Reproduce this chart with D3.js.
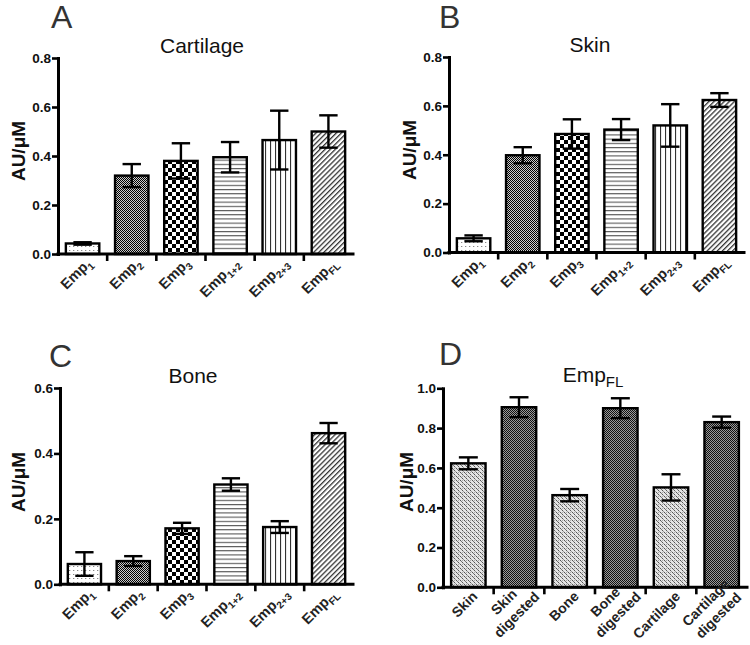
<!DOCTYPE html>
<html><head><meta charset="utf-8">
<script src="https://cdn.jsdelivr.net/npm/d3@7"></script>
<style>body{margin:0;background:#fff} svg{display:block}</style>
</head><body>
<svg id="c" width="750" height="645"></svg>
<script>
// ---------- data ----------
const empMain = ["Emp","Emp","Emp","Emp","Emp","Emp"];
const empSub = ["1","2","3","1+2","2+3","FL"];
const cartilageMean = [0.043, 0.320, 0.380, 0.395, 0.465, 0.500];
const cartilageErr  = [0.005, 0.047, 0.072, 0.062, 0.120, 0.066];
const skinMean = [0.058, 0.398, 0.485, 0.503, 0.520, 0.624];
const skinErr  = [0.012, 0.033, 0.060, 0.043, 0.087, 0.028];
const boneMean = [0.062, 0.071, 0.171, 0.305, 0.175, 0.462];
const boneErr  = [0.036, 0.015, 0.017, 0.019, 0.018, 0.031];
const flLabels = [["Skin"],["Skin","digested"],["Bone"],["Bone","digested"],["Cartilage"],["Cartilage","digested"]];
const flMean = [0.623, 0.905, 0.463, 0.900, 0.502, 0.830];
const flErr  = [0.030, 0.050, 0.031, 0.050, 0.066, 0.028];
const ticks08 = [0, 0.2, 0.4, 0.6, 0.8];
const ticks06 = [0, 0.2, 0.4, 0.6];
const ticks10 = [0, 0.2, 0.4, 0.6, 0.8, 1.0];
const panelTitles = ["Cartilage", "Skin", "Bone", "Emp"];
const panelLetters = ["A", "B", "C", "D"];
const yLabel = "AU/μM";

// ---------- drawing ----------
const FONT = "'Liberation Sans', Arial, Helvetica, sans-serif";
const svg = d3.select("#c");
svg.append("rect").attr("width",750).attr("height",645).attr("fill","#fff");
const defs = svg.append("defs");

function pattern(id, w, h, bg, rects, transform) {
  const p = defs.append("pattern").attr("id", id).attr("patternUnits","userSpaceOnUse")
    .attr("width", w).attr("height", h);
  if (transform) p.attr("patternTransform", transform);
  p.append("rect").attr("width", w).attr("height", h).attr("fill", bg);
  rects.forEach(r => p.append("rect").attr("x", r[0]).attr("y", r[1]).attr("width", r[2]).attr("height", r[3]).attr("fill", r[4]));
}
pattern("p-dots", 4, 4, "#fff", [[1,2,1.3,1,"#888"]]);
pattern("p-fine", 2, 2, "#cccccc", [[0,0,1,1,"#000"],[1,1,1,1,"#000"]]);
pattern("p-check", 8, 8, "#fff", [[0,0,4,4,"#000"],[4,4,4,4,"#000"]]);
pattern("p-hlines", 4, 4.2, "#fff", [[0,0,4,1.1,"#555"]]);
pattern("p-vlines", 5, 4, "#fff", [[0,0,1.1,4,"#333"]]);
pattern("p-diag", 3.6, 4, "#fff", [[0,0,1.3,4,"#333"]], "rotate(45)");
pattern("p-light", 4, 4, "#e4e4e4", [[0,0,1,1,"#555"],[1,1,1,1,"#777"],[2,2,1,1,"#555"],[3,3,1,1,"#999"],[2,0,1,1,"#aaa"]]);
pattern("p-dark", 2, 2, "#9a9a9a", [[0,0,1,1,"#111"],[1,1,1,1,"#111"]]);

const empFills = ["p-dots","p-fine","p-check","p-hlines","p-vlines","p-diag"];
const flFills = ["p-light","p-dark","p-light","p-dark","p-light","p-dark"];

function panel(cfg) {
  const g = svg.append("g");
  const n = cfg.mean.length;
  const x = d3.scaleBand().domain(d3.range(n)).range([cfg.x0, cfg.x1]).paddingInner(0.32).paddingOuter(0.16);
  const y = d3.scaleLinear().domain([0, cfg.ymax]).range([cfg.yBot, cfg.yTop]);
  const step = x.step();
  const mid = i => x(i) + x.bandwidth()/2;

  // bars
  g.selectAll("rect.bar").data(cfg.mean).join("rect").attr("class","bar")
    .attr("x", (d,i) => x(i)).attr("width", x.bandwidth())
    .attr("y", d => y(d)).attr("height", d => y(0) - y(d))
    .attr("fill", (d,i) => `url(#${cfg.fills[i]})`)
    .attr("stroke", "#000").attr("stroke-width", 2.4);

  // error bars (mean ± error)
  const cap = x.bandwidth() * 0.55;
  const eb = g.selectAll("g.err").data(cfg.mean).join("g").attr("class","err")
    .attr("stroke", "#000").attr("stroke-width", 2.4);
  eb.append("line").attr("x1",(d,i)=>mid(i)).attr("x2",(d,i)=>mid(i))
    .attr("y1",(d,i)=>y(d+cfg.err[i])).attr("y2",(d,i)=>y(d-cfg.err[i]));
  eb.append("line").attr("x1",(d,i)=>mid(i)-cap/2).attr("x2",(d,i)=>mid(i)+cap/2)
    .attr("y1",(d,i)=>y(d+cfg.err[i])).attr("y2",(d,i)=>y(d+cfg.err[i]));
  eb.append("line").attr("x1",(d,i)=>mid(i)-cap/2).attr("x2",(d,i)=>mid(i)+cap/2)
    .attr("y1",(d,i)=>y(d-cfg.err[i])).attr("y2",(d,i)=>y(d-cfg.err[i]));

  // y axis
  const ya = g.append("g").attr("transform", `translate(${cfg.x0},0)`)
    .call(d3.axisLeft(y).tickValues(cfg.ticks).tickFormat(d3.format(".1f")).tickSize(6).tickSizeOuter(0).tickPadding(1));
  ya.select(".domain").attr("stroke","#000").attr("stroke-width",3).attr("stroke-linecap","square");
  ya.selectAll(".tick line").attr("stroke","#000").attr("stroke-width",2.6);
  ya.selectAll(".tick text").attr("font-family",FONT).attr("font-size",13.5).attr("font-weight","bold").attr("fill","#111");

  // x axis with ticks between categories
  const xa = g.append("g").attr("transform", `translate(0,${cfg.yBot})`)
    .call(d3.axisBottom(x).tickSize(0).tickFormat(""));
  xa.select(".domain").attr("stroke","#000").attr("stroke-width",3).attr("stroke-linecap","square")
    .attr("d", `M${cfg.x0},0H${cfg.x1}`);
  xa.selectAll(".tick").remove();
  xa.selectAll("line.bt").data(d3.range(1, n)).join("line").attr("class","bt")
    .attr("x1", i => x(i) - step*x.paddingInner()/2).attr("x2", i => x(i) - step*x.paddingInner()/2)
    .attr("y1", 0).attr("y2", 7).attr("stroke","#000").attr("stroke-width",2.6);

  // x labels rotated -45
  const fs = cfg.labelSize, lh = 18;
  cfg.labels.forEach((lines, i) => {
    const cx = mid(i);
    const multi = lines.length > 1;
    const px = multi ? cx + 15 : cx + 10;
    const py = multi ? cfg.yBot + 4 : cfg.yBot + 10;
    const tf = `translate(${px.toFixed(2)},${py.toFixed(2)}) rotate(-45)`;
    const texts = lines.map((ln) => {
      const t = g.append("text").attr("transform", tf)
        .attr("font-family",FONT).attr("font-size",fs).attr("font-weight","bold").attr("fill","#222");
      if (typeof ln === "string") t.text(ln);
      else { t.append("tspan").text(ln[0]); t.append("tspan").attr("font-size",10).attr("dy",4).text(ln[1]); }
      return t;
    });
    if (!multi) {
      texts[0].attr("text-anchor","end").attr("x",0).attr("y",0);
    } else {
      const mw = d3.max(texts.map(t => t.node().getComputedTextLength()));
      texts.forEach((t,k) => t.attr("text-anchor","middle").attr("x", -mw/2).attr("y", (k - (lines.length-1)/2) * lh));
    }
  });

  // y label
  g.append("text").attr("transform", `translate(${cfg.ylabX},${cfg.ylabY}) rotate(-90)`)
    .attr("text-anchor","middle").attr("font-family",FONT).attr("font-size",19).attr("font-weight","bold").attr("fill","#111")
    .text(yLabel);

  // title
  const tt = g.append("text").attr("x", cfg.titleX).attr("y", cfg.titleY).attr("text-anchor","middle")
    .attr("font-family",FONT).attr("font-size",21).attr("fill","#111");
  tt.append("tspan").text(cfg.title);
  if (cfg.titleSub) tt.append("tspan").attr("font-size",15).attr("dy",5).text(cfg.titleSub);

  // panel letter
  g.append("text").attr("x", cfg.letterX).attr("y", cfg.letterY)
    .attr("font-family",FONT).attr("font-size",32).attr("fill","#333").text(cfg.letter);
}

const empLabels = empMain.map((m,i) => [[m, empSub[i]]]);

panel({x0:58, x1:353, yTop:58, yBot:254, ymax:0.8, ticks:ticks08, labels:empLabels, labelSize:14.5,
  mean:cartilageMean, err:cartilageErr, fills:empFills, title:panelTitles[0], titleX:202, titleY:53,
  letter:panelLetters[0], letterX:51, letterY:28, ylabX:25, ylabY:151});
panel({x0:449, x1:744, yTop:57, yBot:252.5, ymax:0.8, ticks:ticks08, labels:empLabels, labelSize:14.5,
  mean:skinMean, err:skinErr, fills:empFills, title:panelTitles[1], titleX:590, titleY:52,
  letter:panelLetters[1], letterX:439, letterY:28, ylabX:416, ylabY:150});
panel({x0:60, x1:353, yTop:388, yBot:584.3, ymax:0.6, ticks:ticks06, labels:empLabels, labelSize:14.5,
  mean:boneMean, err:boneErr, fills:empFills, title:panelTitles[2], titleX:193, titleY:383,
  letter:panelLetters[2], letterX:49, letterY:367, ylabX:25, ylabY:482});
panel({x0:443, x1:747, yTop:388.3, yBot:587.3, ymax:1.0, ticks:ticks10, labels:flLabels, labelSize:14,
  mean:flMean, err:flErr, fills:flFills, title:panelTitles[3], titleSub:"FL", titleX:593, titleY:382,
  letter:panelLetters[3], letterX:439, letterY:365, ylabX:413, ylabY:482});
</script>
</body></html>
